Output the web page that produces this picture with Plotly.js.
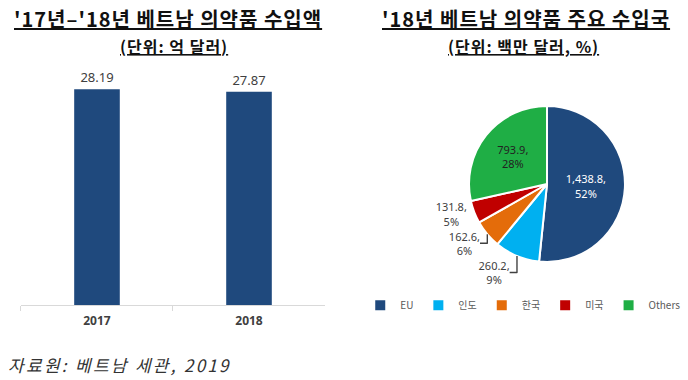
<!DOCTYPE html>
<html>
<head>
<meta charset="utf-8">
<script src="https://cdn.plot.ly/plotly-3.0.1.min.js"></script>
<style>html,body{margin:0;padding:0;background:#fff;overflow:hidden;}#chart{width:688px;height:380px;}</style>
</head>
<body>
<div id="chart"></div>
<script>
// ---- data ----
const years = ['2017', '2018'];
const importValues = [28.19, 27.87];           // 억 달러
const countries = ['EU', '인도', '한국', '미국', 'Others'];
const countryValues = [1438.8, 260.2, 162.6, 131.8, 793.9];  // 백만 달러
const countryColors = ['#1f497d', '#00b0f0', '#e46c0a', '#c00000', '#1fae45'];
const leftTitle = "'17년–'18년 베트남 의약품 수입액";
const leftSub = '(단위: 억 달러)';
const rightTitle = "'18년 베트남 의약품 주요 수입국";
const rightSub = '(단위: 백만 달러, %)';
const source = '자료원: 베트남 세관, 2019';

const KR = '"Noto Sans CJK KR", "Noto Sans", sans-serif';
const NUM = '"Noto Sans", "Open Sans", "Noto Sans CJK KR", sans-serif';

function spaced(t, px) { return '<span style="letter-spacing:' + px + 'px">' + t + '</span>'; }

const barTrace = {
  type: 'bar',
  x: years,
  y: importValues,
  marker: { color: '#1f497d' },
  texttemplate: '%{y:.2f}',
  textposition: 'outside',
  textfont: { family: NUM, size: 13, color: '#404040' },
  cliponaxis: false,
  showlegend: false,
  hoverinfo: 'x+y',
  xaxis: 'x',
  yaxis: 'y'
};

const pieTrace = {
  type: 'pie',
  labels: countries,
  values: countryValues,
  sort: false,
  direction: 'clockwise',
  rotation: 0,
  marker: { colors: countryColors, line: { color: '#ffffff', width: 2 } },
  texttemplate: '%{value:,.1f},<br>%{percent:.0%}',
  textposition: ['inside', 'outside', 'outside', 'outside', 'inside'],
  insidetextorientation: 'horizontal',
  insidetextfont: { family: NUM, size: 11, color: ['#ffffff', '#ffffff', '#ffffff', '#ffffff', '#222222'] },
  outsidetextfont: { family: NUM, size: 11, color: '#404040' },
  domain: { x: [0.6817, 0.9084], y: [0.3105, 0.7211] },
  showlegend: true
};

const layout = {
  width: 688,
  height: 380,
  margin: { l: 0, r: 0, t: 0, b: 0, autoexpand: false },
  paper_bgcolor: '#ffffff',
  plot_bgcolor: '#ffffff',
  font: { family: NUM, color: '#404040' },
  bargap: 0.7,
  xaxis: {
    type: 'category',
    domain: [0.0305, 0.4724],
    showline: true,
    linecolor: '#d9d9d9',
    linewidth: 1,
    ticks: 'outside',
    tickson: 'boundaries',
    ticklen: 5,
    tickcolor: '#d9d9d9',
    ticklabelstandoff: 4,
    tickfont: { family: NUM, size: 12, color: '#404040', weight: 'bold' },
    showgrid: false,
    zeroline: false,
    fixedrange: true
  },
  yaxis: {
    domain: [0.197, 0.842],
    range: [0, 32],
    visible: false,
    showgrid: false,
    zeroline: false,
    fixedrange: true
  },
  legend: {
    orientation: 'h',
    x: 0.996,
    xanchor: 'right',
    y: 0.197,
    yanchor: 'middle',
    font: { family: KR, size: 10, color: '#595959' },
    itemwidth: 30,
    traceorder: 'normal'
  },
  annotations: [
    { text: spaced(leftTitle, 1), xref: 'paper', yref: 'paper', x: 0.0174, y: 0.9526, xanchor: 'left', yanchor: 'middle', showarrow: false,
      font: { family: KR, size: 20, color: '#111111', weight: 'bold', lineposition: 'under' } },
    { text: spaced(leftSub, 1), xref: 'paper', yref: 'paper', x: 0.1715, y: 0.879, xanchor: 'left', yanchor: 'middle', showarrow: false,
      font: { family: KR, size: 16, color: '#111111', weight: 'bold', lineposition: 'under' } },
    { text: spaced(rightTitle, 1), xref: 'paper', yref: 'paper', x: 0.5523, y: 0.9526, xanchor: 'left', yanchor: 'middle', showarrow: false,
      font: { family: KR, size: 20, color: '#111111', weight: 'bold', lineposition: 'under' } },
    { text: spaced(rightSub, 1), xref: 'paper', yref: 'paper', x: 0.6483, y: 0.879, xanchor: 'left', yanchor: 'middle', showarrow: false,
      font: { family: KR, size: 16, color: '#111111', weight: 'bold', lineposition: 'under' } },
    { text: spaced(source, 2.3), xref: 'paper', yref: 'paper', x: 0.008, y: 0.042, xanchor: 'left', yanchor: 'middle', showarrow: false,
      font: { family: KR, size: 17, color: '#333333', style: 'italic' } }
  ]
};

Plotly.newPlot('chart', [barTrace, pieTrace], layout, { displayModeBar: false, staticPlot: true });
</script>
</body>
</html>
